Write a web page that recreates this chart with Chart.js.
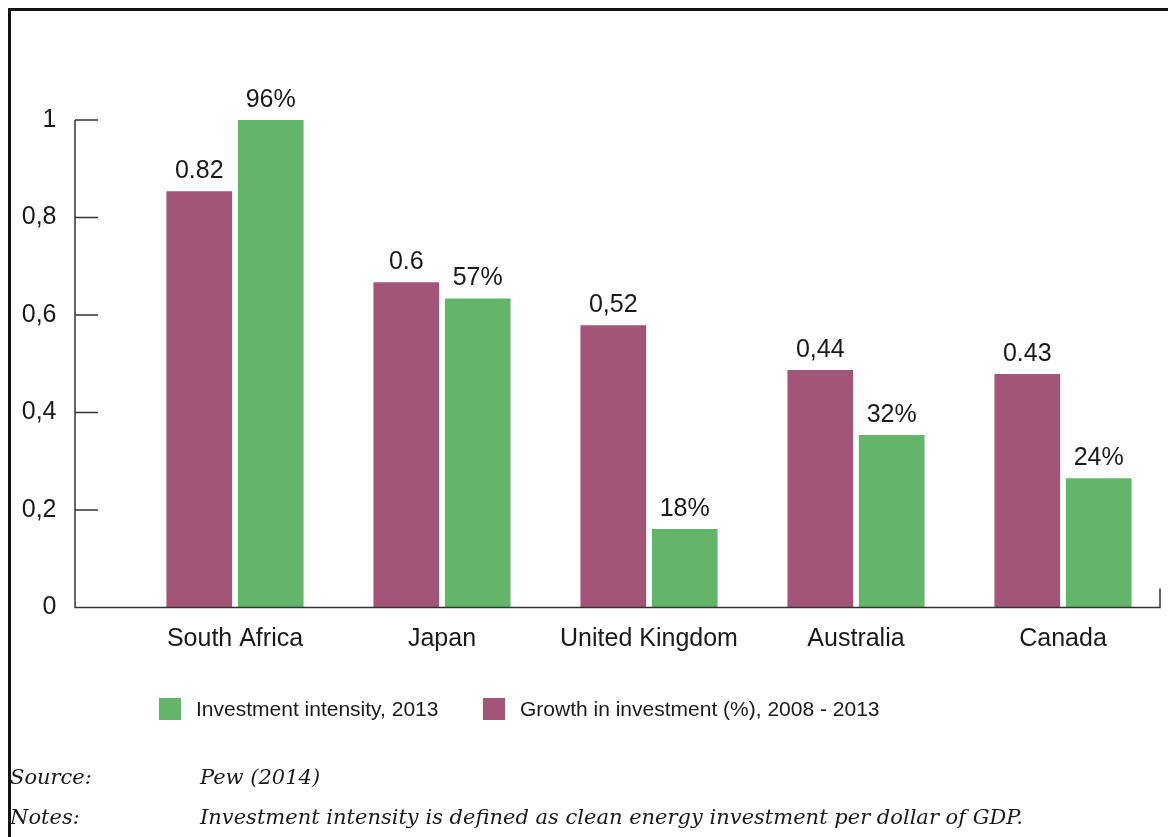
<!DOCTYPE html>
<html>
<head>
<meta charset="utf-8">
<script src="https://cdn.jsdelivr.net/npm/chart.js@4/dist/chart.umd.min.js"></script>
<style>
    html, body { margin: 0; padding: 0; background: #fff; overflow: hidden; }
    body { width: 1168px; height: 837px; position: relative; }
    #chart { position: absolute; left: 0; top: 0; }
    .frame { position: absolute; left: 8px; top: 8px; width: 1300px; height: 900px;
             border-left: 3px solid #111; border-top: 3px solid #111; pointer-events: none; }
    .note { position: absolute; font-family: "DejaVu Serif", serif; font-style: italic;
            font-size: 21px; color: #1a1a1a; white-space: nowrap; }
</style>
</head>
<body>
<canvas id="chart" width="1168" height="837"></canvas>
<div class="frame"></div>
<div class="note" style="left: 10px; top: 765px;">Source:</div>
<div class="note" style="left: 200px; top: 765px;">Pew (2014)</div>
<div class="note" style="left: 10px; top: 805px;">Notes:</div>
<div class="note" style="left: 200px; top: 805px;">Investment intensity is defined as clean energy investment per dollar of GDP.</div>

<script>
const categories = ['South Africa', 'Japan', 'United Kingdom', 'Australia', 'Canada'];

// maroon bars (left in each group)
const growthValues = [0.854, 0.667, 0.579, 0.487, 0.479];
const growthLabels = ['0.82', '0.6', '0,52', '0,44', '0.43'];

// green bars (right in each group)
const intensityValues = [1.0, 0.634, 0.161, 0.354, 0.265];
const intensityLabels = ['96%', '57%', '18%', '32%', '24%'];

const yTicks = [0, 0.2, 0.4, 0.6, 0.8, 1];

const MAROON = '#a25577';
const GREEN = '#63b56a';
const TEXT = '#1a1a1a';
const AXIS = '#333';

// value labels sitting on top of the bars
const barLabels = {
    id: 'barLabels',
    afterDatasetsDraw(chart) {
        const ctx = chart.ctx;
        ctx.save();
        ctx.font = '25px "Liberation Sans", Arial, sans-serif';
        ctx.fillStyle = TEXT;
        ctx.textAlign = 'center';
        ctx.textBaseline = 'alphabetic';
        chart.data.datasets.forEach((ds, i) => {
            chart.getDatasetMeta(i).data.forEach((bar, j) => {
                ctx.fillText(ds.valueLabels[j], bar.x, bar.y - 13);
            });
        });
        ctx.restore();
    }
};

// axis lines with inward ticks, drawn off to the left of the bars
const axisLines = {
    id: 'axisLines',
    afterDraw(chart) {
        const ctx = chart.ctx;
        const y = chart.scales.y;
        const axisX = 75;
        const baseY = y.getPixelForValue(0);
        ctx.save();
        ctx.strokeStyle = AXIS;
        ctx.lineWidth = 1.5;
        ctx.beginPath();
        ctx.moveTo(axisX, y.getPixelForValue(1));
        ctx.lineTo(axisX, baseY);
        ctx.lineTo(1160, baseY);
        ctx.lineTo(1160, baseY - 19);
        y.ticks.forEach(t => {
            if (t.value === 0) return;
            const py = y.getPixelForValue(t.value);
            ctx.moveTo(axisX, py);
            ctx.lineTo(98, py);
        });
        ctx.stroke();
        ctx.restore();
    }
};

// legend below the axis, listed in reverse dataset order
const bottomLegend = {
    id: 'bottomLegend',
    afterDraw(chart) {
        const ctx = chart.ctx;
        const items = chart.data.datasets.slice().reverse();
        const boxX = [159, 483];
        ctx.save();
        ctx.font = '21px "Liberation Sans", Arial, sans-serif';
        ctx.textBaseline = 'middle';
        ctx.textAlign = 'left';
        items.forEach((ds, i) => {
            ctx.fillStyle = ds.backgroundColor;
            ctx.fillRect(boxX[i], 698, 22, 22);
            ctx.fillStyle = TEXT;
            ctx.fillText(ds.label, boxX[i] + 37, 710);
        });
        ctx.restore();
    }
};

new Chart(document.getElementById('chart'), {
    type: 'bar',
    data: {
        labels: categories,
        datasets: [
            {
                label: 'Growth in investment (%), 2008 - 2013',
                data: growthValues,
                valueLabels: growthLabels,
                backgroundColor: MAROON,
                borderWidth: 0,
                categoryPercentage: 0.69,
                barPercentage: 0.92
            },
            {
                label: 'Investment intensity, 2013',
                data: intensityValues,
                valueLabels: intensityLabels,
                backgroundColor: GREEN,
                borderWidth: 0,
                categoryPercentage: 0.69,
                barPercentage: 0.92
            }
        ]
    },
    options: {
        responsive: false,
        animation: false,
        devicePixelRatio: 1,
        layout: { padding: { top: 120, right: 1.5, bottom: 157, left: 0 } },
        plugins: {
            legend: { display: false },
            tooltip: { enabled: false }
        },
        scales: {
            x: {
                grid: { display: false, drawTicks: false },
                border: { display: false },
                ticks: {
                    color: TEXT,
                    padding: 17,
                    font: { family: '"Liberation Sans", Arial, sans-serif', size: 25 }
                },
                afterFit(scale) { scale.height = 72.5; }
            },
            y: {
                min: 0,
                max: 1,
                grid: { display: false, drawTicks: false },
                border: { display: false },
                afterBuildTicks(scale) { scale.ticks = yTicks.map(v => ({ value: v })); },
                ticks: {
                    color: TEXT,
                    padding: 75,
                    font: { family: '"Liberation Sans", Arial, sans-serif', size: 25 },
                    callback: v => String(Number(v.toFixed(1))).replace('.', ',')
                },
                afterFit(scale) { scale.width = 131.5; }
            }
        }
    },
    plugins: [barLabels, axisLines, bottomLegend]
});
</script>
</body>
</html>
